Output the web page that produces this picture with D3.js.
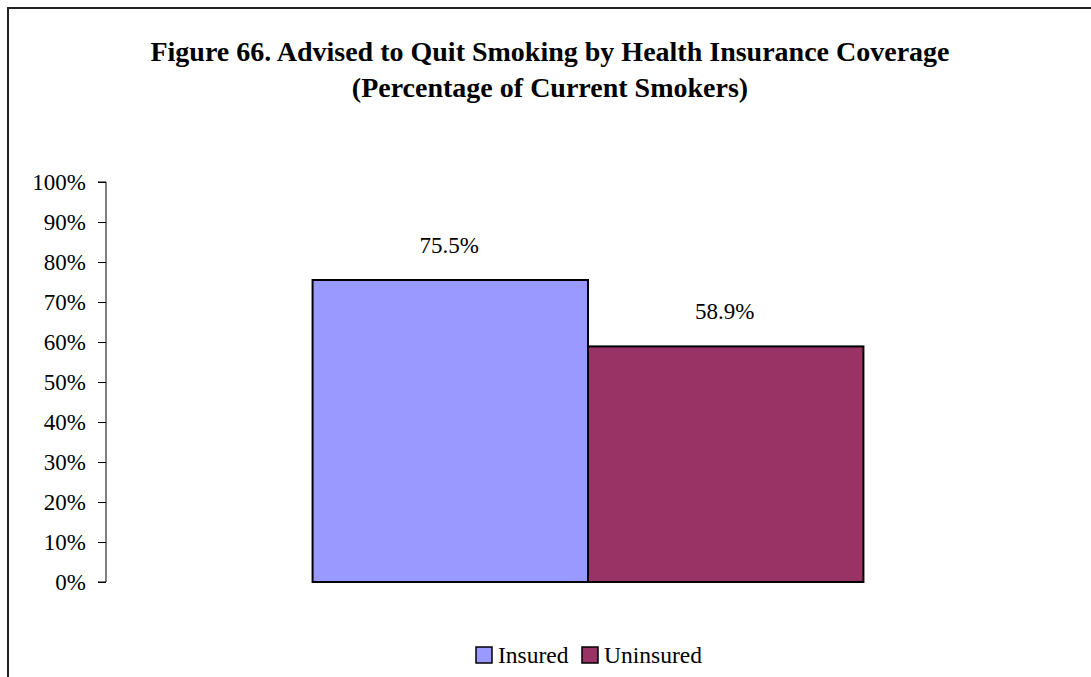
<!DOCTYPE html>
<html>
<head>
<meta charset="utf-8">
<script src="https://cdn.jsdelivr.net/npm/d3@7"></script>
<style>
  html, body { margin: 0; padding: 0; background: #fff; }
  svg { display: block; }
  text { font-family: "Liberation Serif", "DejaVu Serif", serif; fill: #000; }
</style>
</head>
<body>
<svg id="chart" width="1091" height="677"></svg>
<script>
// Chart data
const titleLines = ["Figure 66. Advised to Quit Smoking by Health Insurance Coverage",
                    "(Percentage of Current Smokers)"];
const categories = ["All"];
const seriesNames = ["Insured", "Uninsured"];
const seriesValues = [75.5, 58.9];
const seriesColors = ["#9999ff", "#993366"];
const yTicks = [0, 10, 20, 30, 40, 50, 60, 70, 80, 90, 100];

const svg = d3.select("#chart");
const W = 1091, H = 677;
const plot = { left: 106, right: 1070, top: 182, bottom: 582 };
const FONT = '"Liberation Serif", "DejaVu Serif", serif';

// Outer chart frame (continues past the right and bottom edges)
svg.append("rect")
  .attr("x", 8).attr("y", 8)
  .attr("width", W + 20).attr("height", H + 20)
  .attr("fill", "#fff").attr("stroke", "#222").attr("stroke-width", 2);

// Title
svg.append("g").selectAll("text")
  .data(titleLines).join("text")
  .attr("x", 550).attr("y", (d, i) => 61 + i * 36)
  .attr("text-anchor", "middle")
  .attr("font-weight", "bold")
  .attr("font-size", 28)
  .text(d => d);

// Scales: one category, two bars, gap width 150% of a bar
const y = d3.scaleLinear().domain([0, 100]).range([plot.bottom, plot.top]);
const x0 = d3.scaleBand().domain(categories).range([plot.left, plot.right])
  .paddingInner(0).paddingOuter(1.5 / 2 / 2);
const x1 = d3.scaleBand().domain(seriesNames).range([0, x0.bandwidth()]);

// Y axis
const yAxis = d3.axisLeft(y).tickValues(yTicks).tickSize(8).tickPadding(12)
  .tickFormat(d => d + "%");
const gy = svg.append("g").attr("transform", `translate(${plot.left},0)`).call(yAxis);
gy.select(".domain").attr("stroke", "#000").attr("d", `M-8,${plot.top}H0V${plot.bottom}H-8`);
gy.selectAll(".tick line").attr("stroke", "#000");
gy.selectAll(".tick text").attr("font-size", 23)
  .style("font-family", FONT).attr("fill", "#000");

// Bars
const bars = svg.append("g");
const barData = categories.flatMap(c =>
  seriesNames.map((s, i) => ({ c, s, v: seriesValues[i], color: seriesColors[i] })));
bars.selectAll("rect")
  .data(barData)
  .join("rect")
  .attr("x", d => x0(d.c) + x1(d.s))
  .attr("y", d => y(d.v))
  .attr("width", x1.bandwidth())
  .attr("height", d => y(0) - y(d.v))
  .attr("fill", d => d.color)
  .attr("stroke", "#000").attr("stroke-width", 2);

// Value labels
bars.selectAll("text.val")
  .data(barData)
  .join("text").attr("class", "val")
  .attr("x", d => x0(d.c) + x1(d.s) + x1.bandwidth() / 2 - 1)
  .attr("y", d => y(d.v) - 27)
  .attr("text-anchor", "middle")
  .attr("font-size", 23)
  .text(d => d.v.toFixed(1) + "%");

// Legend
const legend = svg.append("g").attr("transform", "translate(476,647)");
const items = legend.selectAll("g").data(seriesNames).join("g")
  .attr("transform", (d, i) => `translate(${i === 0 ? 0 : 106},0)`);
items.append("rect").attr("width", 16).attr("height", 16)
  .attr("fill", (d, i) => seriesColors[i]).attr("stroke", "#000").attr("stroke-width", 1.5);
items.append("text").attr("x", 22).attr("y", 16).attr("font-size", 23.5).text(d => d);
</script>
</body>
</html>
